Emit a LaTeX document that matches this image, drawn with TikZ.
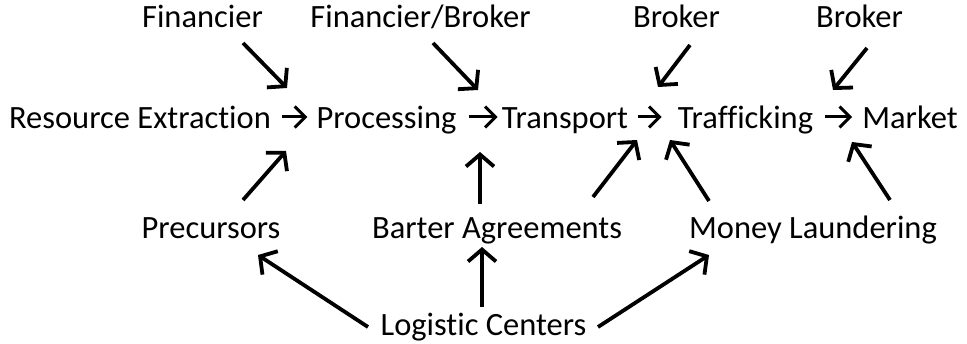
\documentclass[tikz,border=0pt]{standalone}
\usepackage{fontspec}
\setmainfont{Carlito}[Ligatures={NoCommon}]
\usetikzlibrary{arrows.meta}
\begin{document}
\begin{tikzpicture}[x=1pt,y=-1pt,
  lbl/.style={anchor=base,inner sep=0pt,font=\fontsize{32.5}{39}\selectfont},
  bigarr/.style={line width=3.8pt,-{Straight Barb[length=12pt,width=28pt]}},
  inarr/.style={line width=3pt,-{Straight Barb[length=10.5pt,width=21pt]}}]
\useasboundingbox (0,0) rectangle (967,344);
% top row
\node[lbl] (fin) at (202.5,28) {Financier};
\node[lbl] (finb) at (420.5,28) {Financier/Broker};
\node[lbl] (br1) at (676.5,28) {Broker};
\node[lbl] (br2) at (859.5,28) {Broker};
% middle row
\node[lbl] (res) at (140,129) {Resource Extraction};
\node[lbl] (proc) at (386.5,129) {Processing};
\node[lbl] (trans) at (565,129) {Transport};
\node[lbl] (traf) at (745.5,129) {Trafficking};
\node[lbl] (mkt) at (910,129) {Market};
% lower row
\node[lbl] (pre) at (211,239) {Precursors};
\node[lbl] (bar) at (497,239) {Barter Agreements};
\node[lbl] (mon) at (813,239) {Money Laundering};
\node[lbl] (log) at (483.5,336) {Logistic Centers};
% inline arrows
\coordinate (mid) at (0,117);
\draw[inarr] ([xshift=11pt]res.east |- mid) -- ([xshift=-9pt]proc.west |- mid);
\draw[inarr] ([xshift=12pt]proc.east |- mid) -- ([xshift=-4pt]trans.west |- mid);
\draw[inarr] ([xshift=10pt]trans.east |- mid) -- ([xshift=-16pt]traf.west |- mid);
\draw[inarr] ([xshift=12pt]traf.east |- mid) -- ([xshift=-10pt]mkt.west |- mid);
% connector end points
\coordinate (finT) at (243,43);   \coordinate (finH) at (287,88);
\coordinate (finbT) at (433,43);  \coordinate (finbH) at (478,90);
\coordinate (br1T) at (690,45);   \coordinate (br1H) at (658,87);
\coordinate (br2T) at (867,48);   \coordinate (br2H) at (833,90);
\coordinate (preT) at (243,200);  \coordinate (preH) at (286,151);
\coordinate (barT) at (480,204);  \coordinate (barH) at (480,152);
\coordinate (bar2T) at (593,197); \coordinate (bar2H) at (637,140);
\coordinate (monT) at (709,201);  \coordinate (monH) at (670,140);
\coordinate (mon2T) at (890,200); \coordinate (mon2H) at (852,142);
\coordinate (logpT) at (368,327); \coordinate (logpH) at (258,255);
\coordinate (logbT) at (482,307); \coordinate (logbH) at (482,247);
\coordinate (logmT) at (598,327); \coordinate (logmH) at (709,255);
\draw[bigarr] (finT) -- (finH);
\draw[bigarr] (finbT) -- (finbH);
\draw[bigarr] (br1T) -- (br1H);
\draw[bigarr] (br2T) -- (br2H);
\draw[bigarr] (preT) -- (preH);
\draw[bigarr] (barT) -- (barH);
\draw[bigarr] (bar2T) -- (bar2H);
\draw[bigarr] (monT) -- (monH);
\draw[bigarr] (mon2T) -- (mon2H);
\draw[bigarr] (logpT) -- (logpH);
\draw[bigarr] (logbT) -- (logbH);
\draw[bigarr] (logmT) -- (logmH);
\end{tikzpicture}
\end{document}
